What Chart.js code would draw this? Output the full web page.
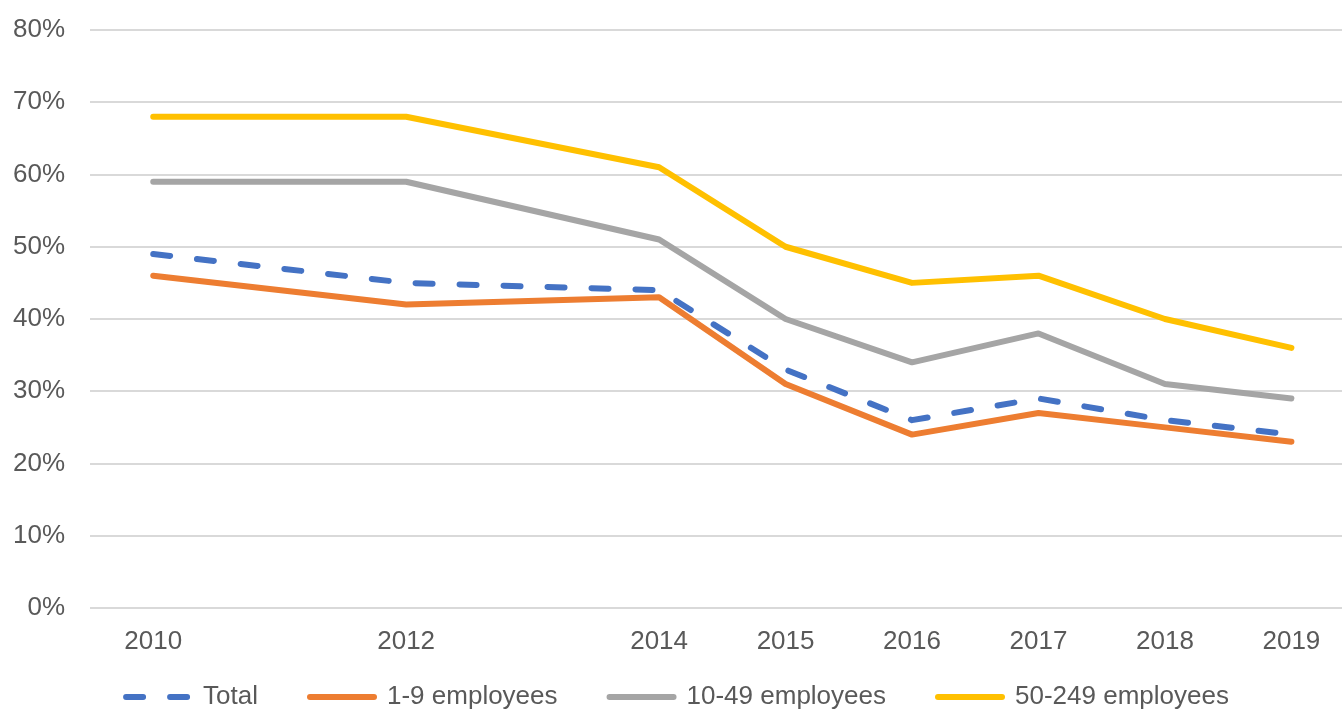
<!DOCTYPE html>
<html>
<head>
<meta charset="utf-8">
<script src="https://cdn.jsdelivr.net/npm/chart.js@4"></script>
<style>
  html, body { margin: 0; padding: 0; background: #fff; }
  #wrap { width: 1342px; height: 709px; }
</style>
</head>
<body>
<div id="wrap"><canvas id="chart"></canvas></div>
<script>
const years = [2010, 2012, 2014, 2015, 2016, 2017, 2018, 2019];
const total = [49, 45, 44, 33, 26, 29, 26, 24];
const micro = [46, 42, 43, 31, 24, 27, 25, 23];
const small = [59, 59, 51, 40, 34, 38, 31, 29];
const medium = [68, 68, 61, 50, 45, 46, 40, 36];
const yTicks = [0, 10, 20, 30, 40, 50, 60, 70, 80];

const font = { family: 'Liberation Sans, Arial, sans-serif', size: 26 };
const textColor = '#595959';

const toPoints = values => values.map((y, i) => ({ x: years[i], y }));

const makeSeries = (label, values, color, dash) => ({
  label,
  data: toPoints(values),
  borderColor: color,
  backgroundColor: color,
  borderWidth: 6,
  borderDash: dash || [],
  borderCapStyle: 'round',
  borderJoinStyle: 'round',
  pointRadius: 0,
  tension: 0
});

const onLoad = () => {
  const ctx = document.getElementById('chart').getContext('2d');
  new Chart(ctx, {
    type: 'line',
    data: {
      datasets: [
        makeSeries('Total', total, '#4472C4', [17, 27]),
        makeSeries('1-9 employees', micro, '#ED7D31'),
        makeSeries('10-49 employees', small, '#A5A5A5'),
        makeSeries('50-249 employees', medium, '#FFC000')
      ]
    },
    options: {
      responsive: true,
      maintainAspectRatio: false,
      animation: false,
      layout: { padding: { left: 13, right: 0, top: 30, bottom: -11 } },
      plugins: {
        tooltip: { enabled: false },
        legend: {
          position: 'bottom',
          labels: {
            usePointStyle: true,
            pointStyle: 'line',
            pointStyleWidth: 64,
            boxHeight: 26,
            padding: 52,
            color: textColor,
            font,
            generateLabels: chart => {
              const items = Chart.defaults.plugins.legend.labels.generateLabels(chart);
              return items.map(item => {
                const ds = chart.data.datasets[item.datasetIndex];
                item.lineDash = ds.borderDash;
                item.lineCap = 'round';
                item.lineWidth = ds.borderWidth;
                item.strokeStyle = ds.borderColor;
                return item;
              });
            }
          }
        }
      },
      scales: {
        x: {
          type: 'linear',
          min: 2009.5,
          max: 2019.4,
          afterBuildTicks: scale => {
            scale.ticks = years.map(value => ({ value }));
          },
          afterFit: scale => {
            // the legend sits right under the year labels, so keep the axis short
            // and let the labels draw past its box
            scale.height = 24;
            scale.paddingLeft = 0;
            scale.paddingRight = 0;
            scale._computeLabelArea = () => undefined;
          },
          grid: { display: false },
          border: { display: false },
          ticks: {
            color: textColor,
            padding: 10,
            maxRotation: 0,
            autoSkip: false,
            font,
            callback: value => String(value)
          }
        },
        y: {
          min: 0,
          max: 80,
          afterBuildTicks: scale => {
            scale.ticks = yTicks.map(value => ({ value }));
          },
          afterFit: scale => {
            scale.width = 77;
            scale.paddingTop = 0;
            scale.paddingBottom = 0;
          },
          grid: { color: '#d9d9d9', lineWidth: 2, drawTicks: false },
          border: { display: false },
          ticks: {
            color: textColor,
            padding: 25,
            font,
            callback: value => value + '%'
          }
        }
      }
    }
  });
};

window.onload = onLoad;
</script>
</body>
</html>
